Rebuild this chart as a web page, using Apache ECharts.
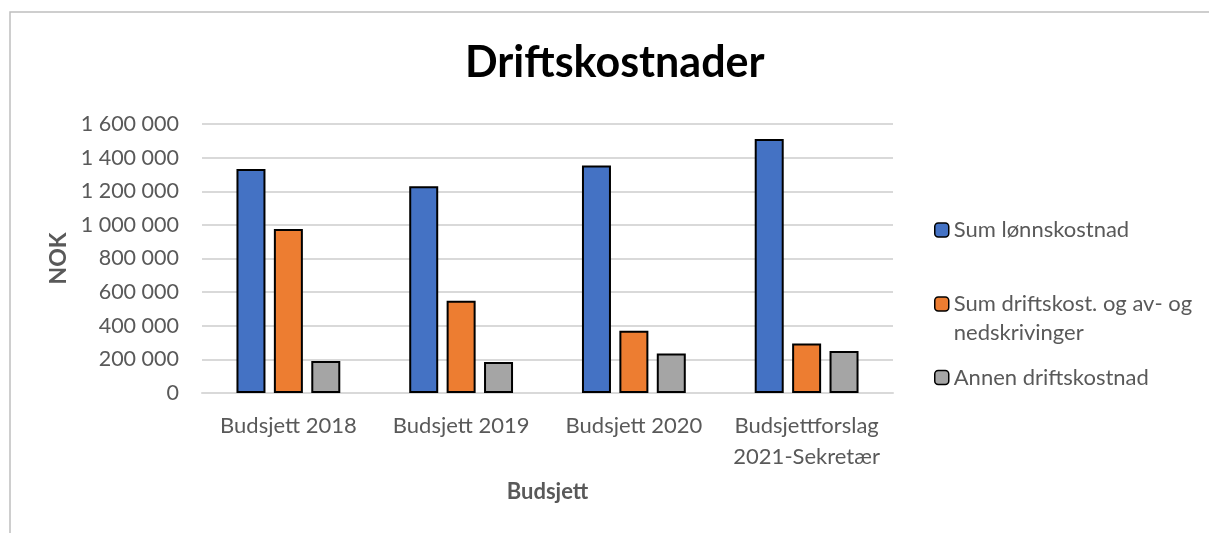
<!DOCTYPE html>
<html>
<head>
<meta charset="utf-8">
<script src="https://cdn.jsdelivr.net/npm/echarts@6/dist/echarts.min.js"></script>
<style>
  html, body { margin: 0; padding: 0; background: #fff; }
  #chart { width: 1209px; height: 533px; }
</style>
</head>
<body>
<div id="chart"></div>
<script>
const categories = ['Budsjett 2018', 'Budsjett 2019', 'Budsjett 2020', 'Budsjettforslag\n2021-Sekretær']
const lonn = [1332000, 1230000, 1353000, 1511000]
const drift = [976000, 548000, 370000, 295000]
const annen = [191000, 185000, 235000, 250000]
const seriesNames = ['Sum lønnskostnad', 'Sum driftskost. og av- og\nnedskrivinger', 'Annen driftskostnad']
const colors = ['#4472C4', '#ED7D31', '#A5A5A5']

const font = 'Lato'
const textGray = '#595959'

const fmt = v => String(v).replace(/\B(?=(\d{3})+(?!\d))/g, ' ')

const chart = echarts.init(document.getElementById('chart'))

const legendBase = {
  orient: 'vertical',
  left: 934,
  padding: 0,
  itemWidth: 14,
  itemHeight: 14,
  itemStyle: { borderColor: '#000', borderWidth: 1.5 },
  textStyle: { fontFamily: font, fontSize: 22, color: textGray, lineHeight: 29 }
}

chart.setOption({
  animation: false,
  title: {
    text: 'Driftskostnader',
    left: 465,
    top: 38,
    padding: 0,
    textStyle: { fontFamily: font, fontSize: 43, fontWeight: 'bold', color: '#000', lineHeight: 50 }
  },
  graphic: [{
    type: 'rect',
    shape: { x: 10, y: 12, width: 1400, height: 700 },
    style: { fill: 'none', stroke: '#bfbfbf', lineWidth: 1.5 },
    silent: true
  }],
  legend: [
    Object.assign({}, legendBase, { top: 215.5, data: [seriesNames[0]] }),
    // blank first line keeps the icon level with the first text line
    Object.assign({}, legendBase, {
      top: 260.5, data: [seriesNames[1]],
      formatter: name => ' \n' + name
    }),
    Object.assign({}, legendBase, { top: 363, data: [seriesNames[2]] })
  ],
  grid: { left: 202, right: 316, top: 124, bottom: 140, containLabel: false },
  xAxis: {
    type: 'category',
    data: categories,
    name: 'Budsjett',
    nameLocation: 'middle',
    nameGap: 88,
    nameTextStyle: { fontFamily: font, fontSize: 22, fontWeight: 'bold', color: textGray },
    axisLine: { lineStyle: { color: '#d9d9d9', width: 2 } },
    axisTick: { show: false },
    axisLabel: { fontFamily: font, fontSize: 22, color: textGray, lineHeight: 31, margin: 17, interval: 0 }
  },
  yAxis: {
    type: 'value',
    min: 0,
    max: 1600000,
    interval: 200000,
    name: 'NOK',
    nameLocation: 'middle',
    nameGap: 129,
    nameTextStyle: { fontFamily: font, fontSize: 23, fontWeight: 'bold', color: textGray },
    axisLine: { show: false },
    axisTick: { show: false },
    splitLine: { lineStyle: { color: '#d9d9d9', width: 2 } },
    axisLabel: { fontFamily: font, fontSize: 21.5, color: textGray, margin: 23, formatter: fmt }
  },
  series: [lonn, drift, annen].map((d, i) => ({
    name: seriesNames[i],
    type: 'bar',
    data: d,
    barWidth: 29,
    barGap: '29%',
    itemStyle: { color: colors[i], borderColor: '#000', borderWidth: 2 }
  }))
})
</script>
</body>
</html>
